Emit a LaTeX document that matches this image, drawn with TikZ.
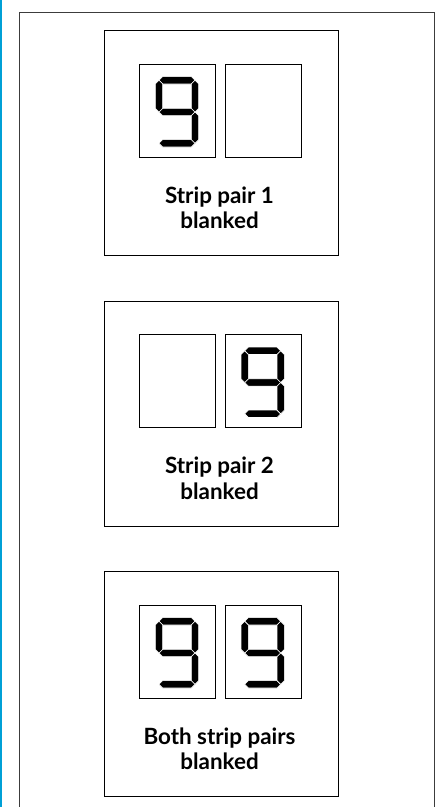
\documentclass[tikz,border=0pt]{standalone}
\usepackage{fontspec}
\setmainfont{Lato}
\definecolor{edgeblue}{RGB}{0,160,214}
\definecolor{framegray}{RGB}{60,60,60}
\tikzset{
  panel/.style={draw=black, line width=1.4pt, inner sep=0pt, minimum width=233.7pt, minimum height=225pt, anchor=north west},
  digitbox/.style={draw=black, line width=1pt, inner sep=0pt, minimum width=76pt, minimum height=93pt, anchor=north west},
  caption/.style={font=\bfseries\fontsize{22.4}{25.6}\selectfont, align=center, inner sep=0pt},
  seg/.style={fill=black, draw=white, line width=0.6pt},
  pics/ninedigit/.style={code={
    \filldraw[seg] (19.7,16.8) -- (23.4,13.1) -- (52,13.1) -- (55.7,16.8) -- (52,20.5) -- (23.4,20.5) -- cycle;
    \filldraw[seg] (19.7,48.5) -- (23.4,44.8) -- (52,44.8) -- (55.7,48.5) -- (52,52.2) -- (23.4,52.2) -- cycle;
    \filldraw[seg] (19.7,79.8) -- (23.4,76.1) -- (52,76.1) -- (55.7,79.8) -- (52,83.5) -- (23.4,83.5) -- cycle;
    \filldraw[seg] (19.7,16.8) -- (23.4,20.5) -- (23.4,44.8) -- (19.7,48.5) -- (16,44.8) -- (16,20.5) -- cycle;
    \filldraw[seg] (55.7,16.8) -- (59.4,20.5) -- (59.4,44.8) -- (55.7,48.5) -- (52,44.8) -- (52,20.5) -- cycle;
    \filldraw[seg] (55.7,48.5) -- (59.4,52.2) -- (59.4,76.1) -- (55.7,79.8) -- (52,76.1) -- (52,52.2) -- cycle;
  }}
}
\begin{document}
\begin{tikzpicture}[x=1pt,y=-1pt]
  \useasboundingbox (0,0) rectangle (436,807);
  \fill[white] (0,0) rectangle (436,807);
  % blue edge
  \fill[edgeblue] (0,0) rectangle (2.3,807);
  % outer frame
  \coordinate (fbl) at (19,812);
  \coordinate (ftl) at (19,12.3);
  \coordinate (ftr) at (434,12.3);
  \coordinate (fbr) at (434,812);
  \draw[framegray, line width=1pt] (fbl) -- (ftl) -- (ftr) -- (fbr);
  % panel 1
  \node[panel] (p1) at (104,30) {};
  \node[digitbox] (p1a) at (139.3,63.5) {};
  \node[digitbox] (p1b) at (225,63.5) {};
  \pic at (p1a.north west) {ninedigit};
  \node[caption] (c1) at (219.5,207.8) {Strip pair 1\\blanked};
  % panel 2
  \node[panel] (p2) at (104,300.5) {};
  \node[digitbox] (p2a) at (139.3,334) {};
  \node[digitbox] (p2b) at (225,334) {};
  \pic at (p2b.north west) {ninedigit};
  \node[caption] (c2) at (219.5,478.3) {Strip pair 2\\blanked};
  % panel 3
  \node[panel] (p3) at (104,571) {};
  \node[digitbox] (p3a) at (139.3,604.5) {};
  \node[digitbox] (p3b) at (225,604.5) {};
  \pic at (p3a.north west) {ninedigit};
  \pic at (p3b.north west) {ninedigit};
  \node[caption] (c3) at (219.5,748.8) {Both strip pairs\\blanked};
\end{tikzpicture}
\end{document}
